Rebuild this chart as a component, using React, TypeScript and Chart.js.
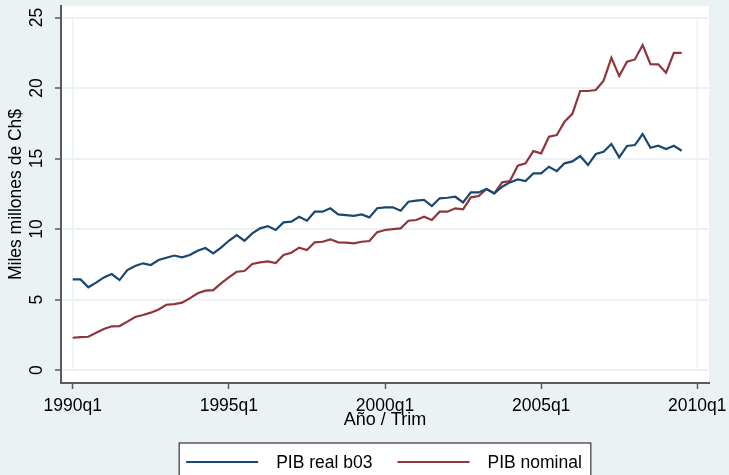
import React, { useEffect, useRef } from "react";
import { Chart, registerables } from "chart.js";

Chart.register(...registerables);

// ---- data ----
const startYear = 1990; // first observation is 1990q1
const pibReal = [
  6.43, 6.43, 5.87, 6.2, 6.57, 6.81, 6.38, 7.09, 7.38, 7.57,
  7.45, 7.8, 7.96, 8.12, 7.99, 8.16, 8.46, 8.65, 8.27, 8.68,
  9.17, 9.57, 9.17, 9.69, 10.05, 10.21, 9.93, 10.47, 10.52, 10.87,
  10.59, 11.23, 11.23, 11.47, 11.04, 10.99, 10.94, 11.04, 10.83, 11.48,
  11.54, 11.54, 11.3, 11.94, 12.01, 12.06, 11.63, 12.18, 12.22, 12.29,
  11.89, 12.6, 12.6, 12.84, 12.53, 13.0, 13.31, 13.52, 13.4, 13.95,
  13.95, 14.42, 14.11, 14.66, 14.8, 15.18, 14.54, 15.32, 15.48, 16.03,
  15.08, 15.89, 15.96, 16.74, 15.77, 15.91, 15.67, 15.91, 15.55,
];
const pibNominal = [
  2.29, 2.34, 2.36, 2.65, 2.91, 3.1, 3.12, 3.43, 3.76, 3.9,
  4.07, 4.3, 4.63, 4.68, 4.78, 5.08, 5.44, 5.63, 5.67, 6.15,
  6.57, 6.97, 7.02, 7.52, 7.64, 7.7, 7.59, 8.16, 8.32, 8.68,
  8.51, 9.06, 9.1, 9.27, 9.06, 9.03, 8.98, 9.1, 9.15, 9.78,
  9.93, 10.0, 10.05, 10.59, 10.64, 10.87, 10.64, 11.23, 11.23, 11.47,
  11.4, 12.25, 12.34, 12.84, 12.53, 13.31, 13.4, 14.49, 14.66, 15.53,
  15.37, 16.55, 16.67, 17.61, 18.17, 19.79, 19.79, 19.86, 20.52, 22.15,
  20.85, 21.87, 22.03, 23.05, 21.7, 21.68, 21.09, 22.5, 22.5,
];
const seriesNames = ["PIB real b03", "PIB nominal"];
const seriesColors = ["#1a476f", "#90353b"];
const xTickLabels = ["1990q1", "1995q1", "2000q1", "2005q1", "2010q1"];
const yTickValues = [0, 5, 10, 15, 20, 25];
const xTitle = "Año / Trim";
const yTitle = "Miles millones de Ch$";

// ---- style ----
const FONT = "'Liberation Sans', Arial, Helvetica, sans-serif";
const BG = "#eaf2f3";
const GRID = "#eaf2f3";
const AXIS = "#5a5a5a";

const qIndex = (lab: string) => {
  const [y, q] = lab.split("q");
  return (Number(y) - startYear) * 4 + Number(q) - 1;
};

const toPoints = (arr: number[]) => arr.map((v, i) => ({ x: i, y: v }));

const plotBgPlugin = {
  id: "plotBg",
  beforeDraw(chart: any) {
    const { ctx, chartArea } = chart;
    ctx.save();
    ctx.fillStyle = "#ffffff";
    ctx.fillRect(chartArea.left, chartArea.top, chartArea.right - chartArea.left, chartArea.bottom - chartArea.top);
    ctx.restore();
  },
  beforeDatasetsDraw(chart: any) {
    const { ctx } = chart;
    const xs = chart.scales.x;
    const ys = chart.scales.y;
    const y0 = ys.getPixelForValue(yTickValues[0]);
    const y1 = ys.getPixelForValue(yTickValues[yTickValues.length - 1]);
    ctx.save();
    ctx.strokeStyle = GRID;
    ctx.lineWidth = 1.5;
    [xTickLabels[0], xTickLabels[xTickLabels.length - 1]].forEach((l) => {
      const px = xs.getPixelForValue(qIndex(l));
      ctx.beginPath();
      ctx.moveTo(px, y0);
      ctx.lineTo(px, y1);
      ctx.stroke();
    });
    ctx.restore();
  },
};

const legendPlugin = {
  id: "boxLegend",
  afterDraw(chart: any) {
    const { ctx, chartArea } = chart;
    const cx = (chartArea.left + chartArea.right) / 2;
    const sample = 72;
    const gapText = 18;
    const gapItem = 25;
    ctx.save();
    ctx.font = `17.5px ${FONT}`;
    const widths = chart.data.datasets.map((d: any) => ctx.measureText(d.label).width);
    const total = chart.data.datasets.reduce((s: number, _d: any, i: number) => s + sample + gapText + widths[i], 0) + gapItem * (chart.data.datasets.length - 1);
    const boxW = total + 16;
    const top = 443;
    ctx.fillStyle = "#ffffff";
    ctx.fillRect(cx - boxW / 2, top, boxW, 40);
    ctx.strokeStyle = "#333333";
    ctx.lineWidth = 1.2;
    ctx.strokeRect(cx - boxW / 2, top, boxW, 40);
    let x = cx - total / 2 - 1;
    const ty = 462;
    chart.data.datasets.forEach((d: any, i: number) => {
      ctx.strokeStyle = d.borderColor;
      ctx.lineWidth = 2;
      ctx.beginPath();
      ctx.moveTo(x, ty);
      ctx.lineTo(x + sample, ty);
      ctx.stroke();
      x += sample + gapText;
      ctx.fillStyle = "#000000";
      ctx.textBaseline = "middle";
      ctx.textAlign = "left";
      ctx.fillText(d.label, x, ty + 1);
      x += widths[i] + gapItem;
    });
    ctx.restore();
  },
};

export default function App() {
  const ref = useRef<HTMLCanvasElement | null>(null);

  useEffect(() => {
    if (!ref.current) return;
    const chart = new Chart(ref.current, {
      type: "line",
      data: {
        datasets: [
          {
            label: seriesNames[0],
            data: toPoints(pibReal),
            borderColor: seriesColors[0],
            backgroundColor: seriesColors[0],
            borderWidth: 2.2,
            pointRadius: 0,
            tension: 0,
          },
          {
            label: seriesNames[1],
            data: toPoints(pibNominal),
            borderColor: seriesColors[1],
            backgroundColor: seriesColors[1],
            borderWidth: 2.2,
            pointRadius: 0,
            tension: 0,
          },
        ],
      },
      options: {
        animation: false,
        responsive: false,
        devicePixelRatio: 1,
        layout: { padding: { left: 0, right: 20, top: 6, bottom: 0 } },
        plugins: {
          legend: { display: false },
          tooltip: { enabled: false },
        },
        scales: {
          x: {
            type: "linear",
            min: -1.5,
            max: 81.5,
            afterBuildTicks: (s: any) => {
              s.ticks = xTickLabels.map((l) => ({ value: qIndex(l) }));
            },
            afterFit: (s: any) => {
              s.height = 92;
              s.paddingLeft = 0;
              s.paddingRight = 0;
            },
            ticks: {
              autoSkip: false,
              maxRotation: 0,
              padding: 7,
              color: "#000000",
              font: { family: FONT, size: 17.5 },
              callback: (v: any) => {
                const l = xTickLabels.find((t) => qIndex(t) === v);
                return l ?? "";
              },
            },
            grid: {
              drawOnChartArea: false,
              tickLength: 6,
              tickColor: AXIS,
              tickWidth: 1.5,
            },
            border: { display: true, color: AXIS, width: 2 },
            title: {
              display: true,
              text: xTitle,
              color: "#000000",
              font: { family: FONT, size: 18 },
              padding: { top: 0, bottom: 44 },
            },
          },
          y: {
            type: "linear",
            min: -0.92,
            max: 25.82,
            afterBuildTicks: (s: any) => {
              s.ticks = yTickValues.map((v) => ({ value: v }));
            },
            afterFit: (s: any) => {
              s.width = 61;
              s.paddingTop = 0;
              s.paddingBottom = 0;
            },
            ticks: {
              padding: 8,
              crossAlign: "center",
              minRotation: 90,
              maxRotation: 90,
              color: "#000000",
              font: { family: FONT, size: 17.5 },
            },
            grid: {
              color: GRID,
              lineWidth: 2,
              tickLength: 6,
              tickColor: AXIS,
              tickWidth: 1.5,
            },
            border: { display: true, color: AXIS, width: 2 },
            title: {
              display: true,
              text: yTitle,
              color: "#000000",
              font: { family: FONT, size: 17.5 },
              padding: { top: 6, bottom: 0 },
            },
          },
        },
      },
      plugins: [plotBgPlugin, legendPlugin],
    } as any);
    return () => chart.destroy();
  }, []);

  return (
    <div style={{ position: "fixed", left: 0, top: 0, width: 729, height: 475, background: BG, overflow: "hidden" }}>
      <canvas ref={ref} width={729} height={475} style={{ display: "block", width: 729, height: 475 }} />
    </div>
  );
}
